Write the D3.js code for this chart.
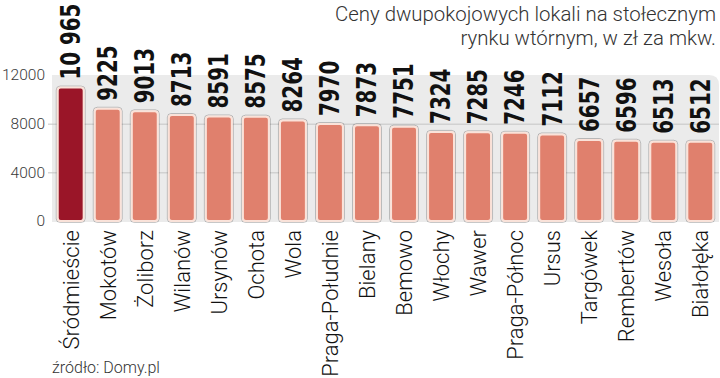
<!DOCTYPE html>
<html><head><meta charset="utf-8">
<script src="https://cdn.jsdelivr.net/npm/d3@7"></script>
<style>
html,body{margin:0;padding:0;background:#fff;}
svg{display:block;}
</style></head>
<body>
<svg id="chart" width="720" height="378"></svg>
<script>
const categories = ["Śródmieście","Mokotów","Żoliborz","Wilanów","Ursynów","Ochota","Wola","Praga-Południe","Bielany","Bemowo","Włochy","Wawer","Praga-Północ","Ursus","Targówek","Rembertów","Wesoła","Białołęka"];
const values = [10965,9225,9013,8713,8591,8575,8264,7970,7873,7751,7324,7285,7246,7112,6657,6596,6513,6512];
const yTicks = [0,4000,8000,12000];
const titleLines = ["Ceny dwupokojowych lokali na stołecznym","rynku wtórnym, w zł za mkw."];
const source = "źródło: Domy.pl";

const data = categories.map((c,i)=>({c, v: values[i]}));
const svg = d3.select("#chart");

const px0 = 52, px1 = 719, pyTop = 75, pyBot = 222;
const x = d3.scaleBand().domain(categories).range([px0, px1]).paddingInner(0.3).paddingOuter(0.155);
const y = d3.scaleLinear().domain([0,12000]).range([221, 75]);

// panel with rounded top-right corner
const r = 10;
svg.append("path")
  .attr("d", `M${px0},${pyTop} H${px1-r} Q${px1},${pyTop} ${px1},${pyTop+r} V${pyBot} H${px0} Z`)
  .attr("fill", "#ebebeb");

// grid + ticks
const yAxis = d3.axisLeft(y).tickValues(yTicks).tickSize(px1 - 48).tickPadding(3).tickFormat(d3.format("d"));
const gA = svg.append("g").attr("transform", `translate(${px1},0)`).call(yAxis);
gA.select(".domain").remove();
gA.selectAll(".tick line").attr("stroke", "#c4c4c4").attr("stroke-width", 1)
  .attr("display", d => (d === 4000 || d === 8000) ? null : "none");
gA.selectAll(".tick text")
  .attr("font-family", "Roboto, 'Open Sans', sans-serif").attr("font-weight", 300)
  .attr("font-size", 15.5).attr("fill", "#3a3a3a");

// bars
const bars = svg.append("g");
bars.selectAll("rect.outer").data(data).join("rect")
  .attr("x", d => x(d.c) - 1.5).attr("width", x.bandwidth() + 3)
  .attr("y", d => y(d.v) - 1.5).attr("height", d => y(0) - y(d.v) + 3)
  .attr("rx", 4).attr("fill", "none").attr("stroke", "rgba(0,0,0,0.22)").attr("stroke-width", 1);
bars.selectAll("rect.bar").data(data).join("rect")
  .attr("x", d => x(d.c)).attr("width", x.bandwidth())
  .attr("y", d => y(d.v)).attr("height", d => y(0) - y(d.v))
  .attr("rx", 3)
  .attr("fill", (d,i) => i === 0 ? "#9a1528" : "#e0806d")
  .attr("stroke", "#fae2d9").attr("stroke-width", 2);

// value labels (condensed bold, compressed along the text direction)
const fmt = v => v >= 10000 ? d3.format(",")(v).replace(/,/g, " ") : String(v);
svg.append("g").selectAll("text").data(data).join("text")
  .attr("transform", d => `translate(${x(d.c) + x.bandwidth()/2},${y(d.v) - 8}) rotate(-90) scale(0.85,1)`)
  .attr("dy", "0.36em")
  .attr("text-anchor", "start")
  .attr("font-family", "'DejaVu Sans Condensed', 'Liberation Sans Narrow', sans-serif")
  .attr("font-weight", 700).attr("font-size", 26).attr("fill", "#111")
  .text(d => fmt(d.v));

// category labels
svg.append("g").selectAll("text").data(data).join("text")
  .attr("transform", d => `translate(${x(d.c) + x.bandwidth()/2},${230}) rotate(-90)`)
  .attr("dy", "0.36em")
  .attr("text-anchor", "end")
  .attr("font-family", "Roboto, 'Open Sans', sans-serif").attr("font-weight", 300)
  .attr("font-size", 22).attr("fill", "#111")
  .text(d => d.c);

// title
svg.append("g").selectAll("text").data(titleLines).join("text")
  .attr("x", 716).attr("y", (d,i) => 21 + i*24)
  .attr("text-anchor", "end")
  .attr("font-family", "Roboto, 'Open Sans', sans-serif").attr("font-weight", 300)
  .attr("font-size", 20.4).attr("fill", "#333")
  .text(d => d);

// source
svg.append("text").attr("x", 52).attr("y", 373)
  .attr("font-family", "Roboto, 'Open Sans', sans-serif").attr("font-weight", 300)
  .attr("font-size", 16).attr("fill", "#333").text(source);
</script>
</body></html>
